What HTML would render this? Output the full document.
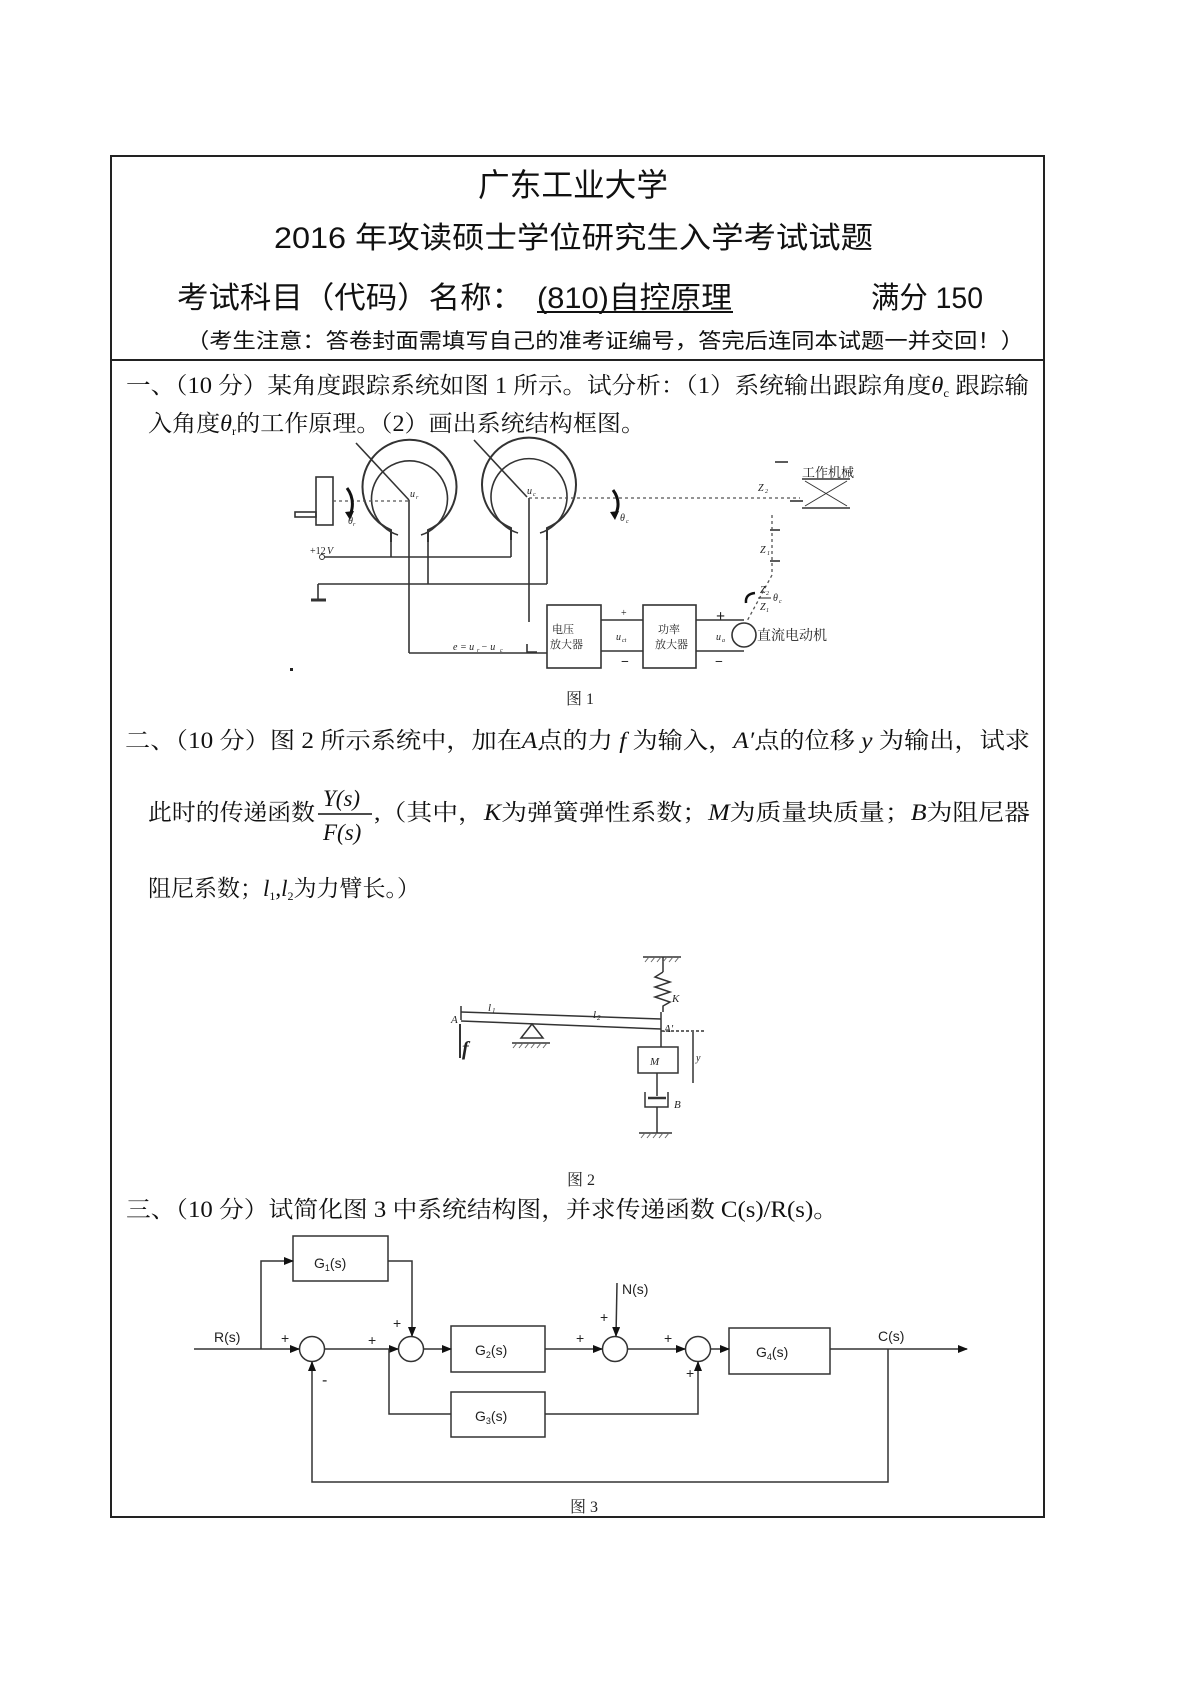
<!DOCTYPE html>
<html><head><meta charset="utf-8"><style>
html,body{margin:0;padding:0;background:#fff;}
svg{display:block;}
.s{font-family:"Liberation Serif","Noto Serif CJK SC",serif;}
.h{font-family:"Liberation Sans","Noto Sans CJK SC",sans-serif;}
.i{font-family:"Liberation Serif",serif;font-style:italic;}
.c{font-family:"Liberation Sans","Noto Sans CJK SC",sans-serif;}
</style></head><body>
<svg width="1190" height="1683" viewBox="0 0 1190 1683" xmlns="http://www.w3.org/2000/svg">
<rect width="1190" height="1683" fill="#fff"/>
<rect x="111" y="156" width="933" height="1361" fill="none" stroke="#222" stroke-width="2"/>
<line x1="111" y1="360" x2="1044" y2="360" stroke="#222" stroke-width="2"/>

<text class="h" x="478" y="196" font-size="32" textLength="190" lengthAdjust="spacingAndGlyphs" fill="#111">广东工业大学</text>
<text class="h" x="274" y="248" font-size="30" textLength="599" lengthAdjust="spacingAndGlyphs" fill="#111">2016 年攻读硕士学位研究生入学考试试题</text>
<text class="h" x="177" y="308" font-size="30" textLength="346" lengthAdjust="spacingAndGlyphs" fill="#111">考试科目（代码）名称：</text>
<text class="h" x="537" y="308" font-size="30" textLength="195" lengthAdjust="spacingAndGlyphs" fill="#111">(810)自控原理</text>
<line x1="537" y1="312" x2="733" y2="312" stroke="#111" stroke-width="2"/>
<text class="h" x="871" y="308" font-size="30" textLength="112" lengthAdjust="spacingAndGlyphs" fill="#111">满分 150</text>
<text class="h" x="186" y="348" font-size="21" textLength="838" lengthAdjust="spacingAndGlyphs" fill="#111">（考生注意：答卷封面需填写自己的准考证编号，答完后连同本试题一并交回！）</text>

<text class="s" x="126" y="393" font-size="23" textLength="903" lengthAdjust="spacingAndGlyphs" fill="#111">一、（10 分）某角度跟踪系统如图 1 所示。试分析：（1）系统输出跟踪角度<tspan class="i">θ</tspan><tspan font-size="12" dy="4">c</tspan><tspan dy="-4"> 跟踪输</tspan></text>
<text class="s" x="148" y="431" font-size="23" textLength="497" lengthAdjust="spacingAndGlyphs" fill="#111">入角度<tspan class="i">θ</tspan><tspan font-size="12" dy="4">r</tspan><tspan dy="-4">的工作原理。（2）画出系统结构框图。</tspan></text>

<g fill="none" stroke="#333" stroke-width="1.6">
  <rect x="316" y="477" width="17" height="48"/>
  <rect x="295" y="512" width="21" height="5"/>
  <path d="M391,542 L391,530 A47,47 0 1 1 428,530 L428,542" stroke-width="2"/>
  <path d="M398,535 A38,38 0 1 1 421,535"/>
  <path d="M511,540 L511,528 A47,47 0 1 1 547,528 L547,540" stroke-width="2"/>
  <path d="M518,533 A38,38 0 1 1 540,533"/>
  <line x1="356" y1="443" x2="409" y2="500"/>
  <line x1="474" y1="440" x2="527" y2="497"/>
  <line x1="391" y1="542" x2="391" y2="557"/>
  <line x1="428" y1="542" x2="428" y2="584"/>
  <line x1="511" y1="540" x2="511" y2="557"/>
  <line x1="547" y1="540" x2="547" y2="584"/>
  <line x1="323" y1="557" x2="511" y2="557"/>
  <line x1="318" y1="584" x2="547" y2="584"/>
  <line x1="318" y1="584" x2="318" y2="600"/>
  <line x1="311" y1="600" x2="326" y2="600" stroke-width="3"/>
  <line x1="409" y1="500" x2="409" y2="653"/>
  <line x1="409" y1="653" x2="547" y2="653"/>
  <line x1="529" y1="498" x2="529" y2="622"/>
  <path d="M527,644 L527,652 L537,652"/>
  <rect x="547" y="605" width="54" height="63"/>
  <rect x="643" y="605" width="53" height="63"/>
  <line x1="601" y1="620" x2="643" y2="620"/>
  <line x1="601" y1="651" x2="643" y2="651"/>
  <line x1="696" y1="620" x2="744" y2="620"/>
  <line x1="696" y1="651" x2="744" y2="651"/>
  <circle cx="744" cy="635" r="12"/>
  <line x1="802" y1="479" x2="850" y2="479"/>
  <line x1="802" y1="508" x2="850" y2="508"/>
  <line x1="805" y1="481" x2="847" y2="506" stroke-width="1"/>
  <line x1="847" y1="481" x2="805" y2="506" stroke-width="1"/>
  <line x1="775" y1="462" x2="788" y2="462"/>
  <line x1="790" y1="501" x2="803" y2="501"/>
  <line x1="770" y1="530" x2="780" y2="530"/>
  <line x1="770" y1="561" x2="780" y2="561"/>
</g>
<g stroke="#555" stroke-width="1.3" stroke-dasharray="3,3" fill="none">
  <line x1="333" y1="501" x2="409" y2="501"/>
  <line x1="529" y1="498" x2="800" y2="498"/>
  <line x1="772" y1="515" x2="772" y2="575"/>
  <line x1="772" y1="575" x2="746" y2="623"/>
</g>
<circle cx="322" cy="557" r="2.5" fill="#fff" stroke="#333"/>
<path d="M347,488 Q356,500 350,516" fill="none" stroke="#111" stroke-width="3"/>
<path d="M345,512 L350,520 L354,511 Z" fill="#111"/>
<path d="M613,490 Q622,502 615,516" fill="none" stroke="#111" stroke-width="3"/>
<path d="M610,512 L615,520 L619,511 Z" fill="#111"/>
<path d="M755,593 Q745,594 746,603" fill="none" stroke="#111" stroke-width="2.5"/>
<g class="i" font-size="10" fill="#222">
  <text x="410" y="497">u</text><text x="416" y="499" font-size="6">r</text>
  <text x="527" y="494">u</text><text x="533" y="496" font-size="6">c</text>
  <text x="348" y="524">θ</text><text x="353" y="526" font-size="6">r</text>
  <text x="620" y="521">θ</text><text x="626" y="523" font-size="6">c</text>
  <text x="758" y="491">Z</text><text x="765" y="493" font-size="6">2</text>
  <text x="760" y="553">Z</text><text x="767" y="555" font-size="6">1</text>
  <text x="310" y="554" font-style="normal">+12</text><text x="327" y="554">V</text>
  <text x="453" y="650">e = u</text><text x="477" y="652" font-size="6">r</text><text x="481" y="650"> − u</text><text x="500" y="652" font-size="6">c</text>
  <text x="616" y="640">u</text><text x="622" y="642" font-size="6">ct</text>
  <text x="716" y="640">u</text><text x="722" y="642" font-size="6">a</text>
  <text x="760" y="593">Z</text><text x="766" y="595" font-size="6">2</text>
  <text x="760" y="610">Z</text><text x="766" y="612" font-size="6">1</text>
  <text x="773" y="601">θ</text><text x="779" y="603" font-size="6">c</text>
</g>
<line x1="758" y1="598" x2="771" y2="598" stroke="#222" stroke-width="1"/>
<g class="s" fill="#222">
  <text x="552" y="633" font-size="11">电压</text>
  <text x="550" y="648" font-size="11">放大器</text>
  <text x="658" y="633" font-size="11">功率</text>
  <text x="655" y="648" font-size="11">放大器</text>
  <text x="757" y="640" font-size="14">直流电动机</text>
  <text x="802" y="477" font-size="13">工作机械</text>
  <text x="621" y="616" font-size="10">+</text>
  <text x="716" y="621" font-size="16" font-weight="bold">+</text>
  <text x="621" y="666" font-size="14" font-weight="bold">−</text>
  <text x="715" y="666" font-size="14" font-weight="bold">−</text>
  <text x="566" y="704" font-size="16">图 1</text>
</g>
<rect x="290" y="668" width="3" height="3" fill="#222"/>

<text class="s" x="125" y="748" font-size="23" textLength="905" lengthAdjust="spacingAndGlyphs" fill="#111">二、（10 分）图 2 所示系统中，加在<tspan class="i">A</tspan>点的力<tspan class="i"> f </tspan>为输入，<tspan class="i">A′</tspan>点的位移<tspan class="i"> y </tspan>为输出，试求</text>
<text class="s" x="148" y="820" font-size="23" textLength="167" lengthAdjust="spacingAndGlyphs" fill="#111">此时的传递函数</text>
<text class="i" x="323" y="806" font-size="23" fill="#111">Y(s)</text>
<line x1="318" y1="814" x2="372" y2="814" stroke="#111" stroke-width="1.5"/>
<text class="i" x="323" y="840" font-size="23" fill="#111">F(s)</text>
<text class="s" x="374" y="820" font-size="23" textLength="656" lengthAdjust="spacingAndGlyphs" fill="#111">,（其中，<tspan class="i">K</tspan>为弹簧弹性系数；<tspan class="i">M</tspan>为质量块质量；<tspan class="i">B</tspan>为阻尼器</text>
<text class="s" x="148" y="896" font-size="23" fill="#111">阻尼系数；<tspan class="i">l</tspan><tspan font-size="12" dy="4">1</tspan><tspan dy="-4">,</tspan><tspan class="i">l</tspan><tspan font-size="12" dy="4">2</tspan><tspan dy="-4">为力臂长。）</tspan></text>

<g fill="none" stroke="#333" stroke-width="1.5">
  <line x1="461" y1="1012" x2="661" y2="1019"/>
  <line x1="461" y1="1021" x2="661" y2="1029"/>
  <line x1="461" y1="1006" x2="461" y2="1020"/>
  <line x1="661" y1="1012" x2="661" y2="1030"/>
  <path d="M532,1024 L521,1038 L543,1038 Z"/>
  <line x1="512" y1="1043" x2="550" y2="1043"/>
  <line x1="460" y1="1024" x2="460" y2="1058" stroke-width="2"/>
  <line x1="643" y1="957" x2="681" y2="957"/>
  <line x1="663" y1="957" x2="663" y2="972"/>
  <path d="M663,972 L655,977 L670,982 L655,987 L670,992 L655,997 L670,1002 L663,1006 L663,1012"/>
  <line x1="661" y1="1030" x2="661" y2="1047"/>
  <rect x="638" y="1047" width="40" height="26"/>
  <line x1="657" y1="1073" x2="657" y2="1096"/>
  <path d="M645,1092 L645,1107 L668,1107 L668,1092"/>
  <line x1="648" y1="1098" x2="666" y2="1098" stroke-width="2.5"/>
  <line x1="657" y1="1107" x2="657" y2="1133"/>
  <line x1="639" y1="1133" x2="672" y2="1133"/>
  <line x1="693" y1="1032" x2="693" y2="1083"/>
  <line x1="661" y1="1031" x2="705" y2="1031" stroke-dasharray="3,2"/>
</g>
<g stroke="#666" stroke-width="1">
  <path d="M513,1048 l4,-5 M519,1048 l4,-5 M525,1048 l4,-5 M531,1048 l4,-5 M537,1048 l4,-5 M543,1048 l4,-5"/>
  <path d="M645,962 l4,-5 M651,962 l4,-5 M657,962 l4,-5 M663,962 l4,-5 M669,962 l4,-5 M675,962 l4,-5"/>
  <path d="M641,1138 l4,-5 M647,1138 l4,-5 M653,1138 l4,-5 M659,1138 l4,-5 M665,1138 l4,-5"/>
</g>
<g class="i" fill="#222">
  <text x="451" y="1023" font-size="11">A</text>
  <text x="488" y="1011" font-size="11">l</text><text x="492" y="1013" font-size="7">1</text>
  <text x="593" y="1018" font-size="11">l</text><text x="597" y="1020" font-size="7">2</text>
  <text x="672" y="1002" font-size="11">K</text>
  <text x="664" y="1032" font-size="11">A′</text>
  <text x="650" y="1065" font-size="11">M</text>
  <text x="674" y="1108" font-size="11">B</text>
  <text x="696" y="1061" font-size="10">y</text>
  <text x="462" y="1055" font-size="20" font-weight="bold">f</text>
</g>
<text class="s" x="567" y="1185" font-size="16" fill="#222">图 2</text>

<text class="s" x="126" y="1217" font-size="23" textLength="712" lengthAdjust="spacingAndGlyphs" fill="#111">三、（10 分）试简化图 3 中系统结构图，并求传递函数 C(s)/R(s)。</text>

<defs><marker id="ar" markerWidth="10" markerHeight="8" refX="9" refY="4" orient="auto" markerUnits="userSpaceOnUse"><path d="M0,0 L10,4 L0,8 Z" fill="#111"/></marker></defs>
<g fill="none" stroke="#333" stroke-width="1.5">
  <rect x="293" y="1236" width="95" height="45"/>
  <rect x="451" y="1326" width="94" height="46"/>
  <rect x="451" y="1392" width="94" height="45"/>
  <rect x="729" y="1328" width="101" height="46"/>
  <circle cx="312" cy="1349" r="12.5"/>
  <circle cx="411" cy="1349" r="12.5"/>
  <circle cx="615" cy="1349" r="12.5"/>
  <circle cx="698" cy="1349" r="12.5"/>
  <line x1="194" y1="1349" x2="299" y2="1349" marker-end="url(#ar)"/>
  <path d="M261,1349 L261,1261 L293,1261" marker-end="url(#ar)"/>
  <path d="M388,1261 L412,1261 L412,1336" marker-end="url(#ar)"/>
  <line x1="325" y1="1349" x2="398" y2="1349" marker-end="url(#ar)"/>
  <line x1="424" y1="1349" x2="451" y2="1349" marker-end="url(#ar)"/>
  <line x1="545" y1="1349" x2="602" y2="1349" marker-end="url(#ar)"/>
  <line x1="617" y1="1283" x2="616" y2="1336" marker-end="url(#ar)"/>
  <line x1="628" y1="1349" x2="685" y2="1349" marker-end="url(#ar)"/>
  <line x1="711" y1="1349" x2="729" y2="1349" marker-end="url(#ar)"/>
  <line x1="830" y1="1349" x2="967" y2="1349" marker-end="url(#ar)"/>
  <path d="M389,1349 L389,1414 L451,1414"/>
  <path d="M545,1414 L698,1414 L698,1362" marker-end="url(#ar)"/>
  <path d="M888,1349 L888,1482 L312,1482 L312,1362" marker-end="url(#ar)"/>
</g>
<g class="c" fill="#222" font-size="14">
  <text x="314" y="1268">G<tspan font-size="9" dy="3">1</tspan><tspan dy="-3">(s)</tspan></text>
  <text x="475" y="1355">G<tspan font-size="9" dy="3">2</tspan><tspan dy="-3">(s)</tspan></text>
  <text x="475" y="1421">G<tspan font-size="9" dy="3">3</tspan><tspan dy="-3">(s)</tspan></text>
  <text x="756" y="1357">G<tspan font-size="9" dy="3">4</tspan><tspan dy="-3">(s)</tspan></text>
  <text x="214" y="1342">R(s)</text>
  <text x="878" y="1341">C(s)</text>
  <text x="622" y="1294">N(s)</text>
  <text x="281" y="1343">+</text>
  <text x="322" y="1385" font-size="16">-</text>
  <text x="368" y="1345">+</text>
  <text x="393" y="1328">+</text>
  <text x="576" y="1343">+</text>
  <text x="600" y="1322">+</text>
  <text x="664" y="1343">+</text>
  <text x="686" y="1378">+</text>
</g>
<text class="s" x="570" y="1512" font-size="16" fill="#222">图 3</text>
</svg>
</body></html>
